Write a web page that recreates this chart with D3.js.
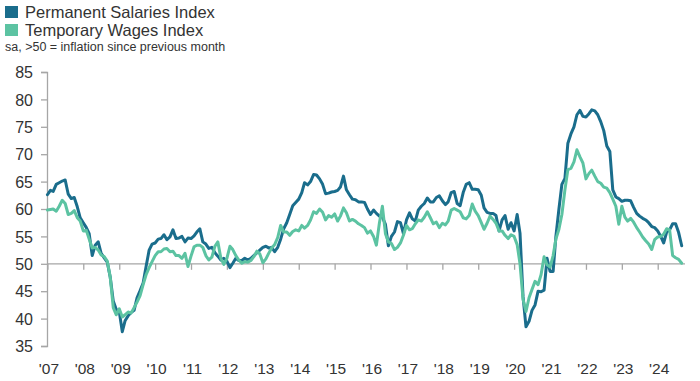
<!DOCTYPE html>
<html><head><meta charset="utf-8">
<script src="https://cdn.jsdelivr.net/npm/d3@7"></script>
<style>body{margin:0;background:#fff}svg{display:block;font-family:"Liberation Sans",Arial,sans-serif}</style>
</head><body><svg id="c" width="700" height="381"></svg>
<script>
const startYear = 2007;
const yearLabels = ["'07","'08","'09","'10","'11","'12","'13","'14","'15","'16","'17","'18","'19","'20","'21","'22","'23","'24"];
const yTicks = [35,40,45,50,55,60,65,70,75,80,85];
const seriesNames = ["Permanent Salaries Index","Temporary Wages Index"];
const subtitle = "sa, >50 = inflation since previous month";
// monthly values, Jan 2007 - Sep 2024
const permanent = [
62.6,63.4,63.2,64.5,64.8,65.1,65.3,62.7,61.9,62.1,60.4,58.4,
57.5,56.6,55.5,51.5,53.4,54.0,51.9,51.1,50.3,47.6,43.2,41.7,
41.3,37.6,39.6,40.5,41.1,41.5,43.8,45.1,46.5,49.5,52.5,53.6,
53.8,54.5,54.6,55.3,54.4,54.9,56.2,54.6,54.7,55.0,54.0,54.7,
54.6,55.1,55.8,56.4,54.0,53.6,52.8,53.0,52.0,51.4,50.7,51.0,
50.5,49.3,50.1,51.0,50.6,50.6,51.0,50.7,51.0,51.5,52.0,52.5,
53.0,53.2,52.9,53.0,52.2,53.0,54.5,56.4,57.5,59.0,60.6,61.2,
61.8,63.0,64.8,64.4,65.0,66.3,66.2,65.5,64.5,62.8,62.9,63.1,
63.2,63.4,64.0,66.0,63.5,62.6,61.8,61.7,61.3,61.3,61.2,60.0,
59.0,59.8,59.2,58.7,58.5,57.2,53.3,55.0,55.8,57.7,57.5,55.5,
58.0,59.3,58.2,57.8,59.8,60.5,61.0,62.0,61.3,61.3,62.1,62.4,
61.5,60.8,61.3,63.0,63.2,61.0,60.6,63.0,64.5,64.8,63.6,63.6,
63.5,62.5,60.2,59.4,59.2,59.2,58.8,56.0,58.0,58.8,56.3,57.5,
56.0,59.0,55.6,44.0,38.5,39.5,41.5,42.5,45.0,44.9,45.2,51.0,
48.6,48.6,55.0,60.0,64.5,65.6,72.0,73.7,75.0,77.2,78.0,76.9,
76.8,77.4,78.1,77.9,77.2,75.9,74.3,71.5,70.5,63.5,62.2,61.9,
61.4,61.6,61.6,61.5,60.3,59.2,58.7,58.3,58.0,57.5,56.8,56.6,
56.0,55.0,53.8,55.8,56.2,57.3,57.3,55.7,53.3];
const temporary = [
59.8,59.9,60.0,59.6,60.5,61.6,61.0,59.0,59.2,59.7,58.4,57.8,
56.0,56.1,54.5,52.9,53.0,52.5,51.6,51.3,50.5,47.6,42.0,40.7,
41.8,40.3,40.7,41.2,41.0,42.0,43.0,44.2,46.2,48.0,49.3,50.4,
51.5,52.2,52.2,52.7,52.8,52.2,52.3,51.5,51.5,51.0,51.9,49.5,
51.4,53.1,53.4,53.4,53.0,51.5,50.7,51.2,53.2,54.0,51.0,49.9,
51.0,53.2,52.6,51.5,50.7,50.1,50.4,50.3,50.6,51.3,52.3,51.8,
50.2,50.9,51.9,52.9,53.5,54.8,57.0,55.8,55.8,55.2,55.9,56.2,
56.0,57.0,56.5,57.0,58.0,59.5,59.2,60.0,59.4,58.0,58.8,58.5,
59.1,57.8,58.7,60.2,59.3,57.8,58.1,57.8,57.3,57.0,56.6,55.6,
56.0,55.0,53.4,57.5,60.5,55.5,54.0,53.7,52.6,53.0,53.8,55.2,
57.0,56.2,56.4,57.3,58.0,57.8,58.5,59.5,58.4,57.3,57.6,56.6,
57.4,57.1,57.8,59.8,60.1,59.8,59.5,58.4,58.2,58.8,60.9,59.6,
58.8,57.5,56.3,57.4,58.7,58.1,57.4,56.0,56.0,55.2,54.6,55.3,
55.0,53.5,50.0,43.5,41.3,43.8,45.3,46.8,46.2,48.0,51.3,49.8,
49.4,51.5,54.5,56.3,59.0,63.5,67.2,67.4,68.6,70.8,69.5,68.4,
65.5,66.5,67.1,66.0,65.0,64.7,64.0,63.8,63.0,61.8,60.5,57.2,
60.5,58.5,57.8,58.3,57.6,56.6,55.8,54.9,54.2,53.6,52.6,54.4,
54.9,55.0,55.4,56.4,56.2,51.5,51.1,50.8,50.1];

const colors = ["#1a6d8c", "#5cc3a2"];
const svg = d3.select("#c");
const monthDate = i => new Date(startYear, i, 1);
const n = permanent.length;
const x = d3.scaleTime().domain([monthDate(0), monthDate(n-1)]).range([47.4, 681.7]);
const y = d3.scaleLinear().domain([35,85]).range([346,72]);
const axisCol = "#a6a6a6", textCol = "#333";

// y axis
const yAxis = svg.append("g").attr("transform","translate(47,0)")
  .call(d3.axisLeft(y).tickValues(yTicks).tickSize(6).tickPadding(8).tickFormat(d3.format("d")));
yAxis.select(".domain").attr("stroke",axisCol).attr("stroke-width",1.3);
yAxis.selectAll(".tick line").attr("stroke",axisCol).attr("stroke-width",1.3);
yAxis.selectAll("text").attr("fill",textCol).style("font-size","16px").attr("dy","0.36em");

// x axis at y=50
const yearDates = yearLabels.map((_,i)=>new Date(startYear+i,0,1));
const xAxis = svg.append("g").attr("transform",`translate(0,${y(50)})`)
  .call(d3.axisBottom(x).tickValues(yearDates).tickSize(6).tickFormat(""));
xAxis.select(".domain").remove();
xAxis.selectAll(".tick line").attr("stroke",axisCol).attr("stroke-width",1.3);
svg.append("line").attr("x1",47).attr("x2",685).attr("y1",y(50)).attr("y2",y(50))
  .attr("stroke",axisCol).attr("stroke-width",1.3);
svg.append("g").selectAll("text").data(yearLabels).join("text")
  .attr("x",(d,i)=>x(yearDates[i])+1.5).attr("y",374)
  .attr("text-anchor","middle").attr("fill",textCol).style("font-size","15.5px").text(d=>d);

// lines
const line = d3.line().x((d,i)=>x(monthDate(i))).y(d=>y(d));
[permanent, temporary].forEach((s,k)=>{
  svg.append("path").datum(s).attr("d",line).attr("fill","none")
    .attr("stroke",colors[k]).attr("stroke-width",3).attr("stroke-linejoin","round").attr("stroke-linecap","round");
});

// legend
const lg = svg.append("g");
seriesNames.forEach((nm,k)=>{
  lg.append("rect").attr("x",5).attr("y",6+k*18).attr("width",13).attr("height",12).attr("fill",colors[k]);
  lg.append("text").attr("x",25).attr("y",18+k*17.5).attr("fill",textCol).style("font-size","16.5px").text(nm);
});
lg.append("text").attr("x",5).attr("y",51).attr("fill",textCol).style("font-size","12.5px").text(subtitle);
</script></body></html>
